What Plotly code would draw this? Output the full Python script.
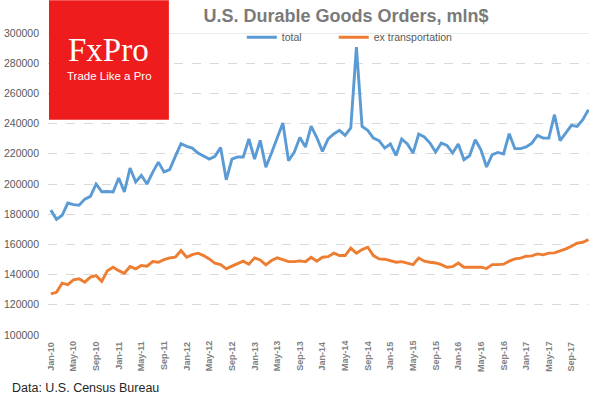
import pandas as pd
import plotly.graph_objects as go

months = pd.date_range("2010-01-01", periods=96, freq="MS").strftime("%b-%y").tolist()

total = [
    182700, 176600, 179300, 187400, 186300, 186000, 190000, 191800, 200000, 194900,
    195000, 194700, 204000, 194700, 210600, 201300, 205700, 200000, 207700, 214500,
    208000, 209500, 218300, 226700, 224900, 223800, 220500, 218700, 216500, 218300,
    224200, 202800, 216500, 217900, 217900, 229800, 216500, 228900, 211200, 220500,
    230400, 240400, 215400, 220900, 230800, 224500, 238300, 230800, 221600, 229800,
    233100, 235500, 232200, 237100, 290700, 238100, 235500, 230400, 228700, 223800,
    226500, 218900, 229800, 226500, 220500, 233100, 231100, 227100, 221200, 227100,
    225600, 220500, 226500, 216100, 218700, 229300, 222700, 211300, 219400, 220900,
    219900, 233300, 223400, 223400, 224500, 227100, 232200, 230400, 230400, 245900,
    228700, 233800, 238800, 238100, 242600, 249200,
]

ex_transport = [
    127200, 128300, 134300, 133400, 136500, 137200, 135000, 138300, 139300, 135600,
    142600, 144900, 142600, 140900, 145300, 143800, 146000, 145600, 148600, 148200,
    149900, 151100, 151500, 155900, 151500, 153200, 154200, 152600, 150400, 147500,
    146600, 143800, 145600, 147300, 148900, 146900, 151100, 149700, 146400, 149300,
    151100, 149900, 148600, 148600, 149100, 148600, 151500, 148900, 151500, 151900,
    154200, 152600, 152600, 157500, 154200, 156600, 158100, 152600, 150400, 150200,
    149300, 148200, 148600, 147700, 146600, 151000, 148900, 148200, 147700, 146600,
    144900, 145300, 147700, 144900, 144900, 145300, 144900, 144000, 146600, 146600,
    146900, 148900, 150400, 150900, 152200, 152400, 153700, 153100, 154200, 154400,
    155500, 157000, 158800, 160800, 161400, 163200,
]

y_ticks = [100000, 120000, 140000, 160000, 180000, 200000, 220000, 240000, 260000, 280000, 300000]
x_tick_labels = months[::4]

TITLE = "U.S. Durable Goods Orders, mln$"
SOURCE = "Data: U.S. Census Bureau"

# pixel geometry helpers (600x400 canvas)
L, R, T, B = 48, 10.5, 32.7, 65
PW, PH = 600 - L - R, 400 - T - B


def px_x(x):
    return (x - L) / PW


def px_y(y):
    return (400 - B - y) / PH


fig = go.Figure()
fig.add_trace(go.Scatter(x=months, y=total, mode="lines", name="total", legend="legend",
                         line=dict(color="#5B9BD5", width=2.9)))
fig.add_trace(go.Scatter(x=months, y=ex_transport, mode="lines", name="ex transportation",
                         legend="legend2", line=dict(color="#ED7D31", width=2.9)))

annotations = []
for lab in x_tick_labels:
    annotations.append(dict(x=lab, xref="x", y=px_y(356), yref="paper", text=lab,
                            textangle=-90, showarrow=False, xanchor="center", yanchor="middle",
                            font=dict(family="Liberation Sans", size=9, color="#808080", weight="bold")))

annotations += [
    dict(x=px_x(108.5), y=px_y(50), xref="paper", yref="paper", text="FxPro", showarrow=False,
         xanchor="center", yanchor="middle",
         font=dict(family="Liberation Serif", size=33, color="white")),
    dict(x=px_x(109.5), y=px_y(76), xref="paper", yref="paper", text="Trade Like a Pro", showarrow=False,
         xanchor="center", yanchor="middle",
         font=dict(family="Liberation Sans", size=11.5, color="white")),
    dict(x=px_x(10), y=px_y(388), xref="paper", yref="paper", text=SOURCE, showarrow=False,
         xanchor="left", yanchor="middle",
         font=dict(family="Liberation Sans", size=12.5, color="#262626")),
]

legend_font = dict(family="Liberation Sans", size=10.5, color="#595959")

fig.update_layout(
    width=600, height=400,
    margin=dict(l=L, r=R, t=T, b=B, autoexpand=False),
    paper_bgcolor="white", plot_bgcolor="white",
    title=dict(text=TITLE, x=346 / 600, xanchor="center", y=1 - 16 / 400, yanchor="middle",
               font=dict(family="Liberation Sans", size=18, color="#7A7A7A", weight="bold")),
    showlegend=True,
    legend=dict(orientation="h", x=px_x(242), y=px_y(37), xanchor="left", yanchor="middle",
                bgcolor="rgba(0,0,0,0)", font=legend_font),
    legend2=dict(orientation="h", x=px_x(334), y=px_y(37), xanchor="left", yanchor="middle",
                 bgcolor="rgba(0,0,0,0)", font=legend_font),
    xaxis=dict(type="category", range=[-0.5, 95.1], showgrid=False, showticklabels=False,
               showline=False, zeroline=False, ticks="", automargin=False),
    yaxis=dict(range=[100000, 300000], tickvals=y_ticks, showgrid=True, gridcolor="#D9D9D9",
               griddash="dash", gridwidth=1, zeroline=False, showline=False, automargin=False,
               tickfont=dict(family="Liberation Sans", size=10.5, color="#595959"),
               ticklabelstandoff=8, tickformat="d"),
    shapes=[
        dict(type="line", xref="paper", yref="y", x0=0, x1=1, y0=300000, y1=300000,
             line=dict(color="#D9D9D9", width=1), layer="below"),
        dict(type="rect", xref="paper", yref="paper", x0=px_x(49), x1=px_x(169),
             y0=px_y(119.5), y1=px_y(0), fillcolor="#EE1C1C", line=dict(width=0), layer="above"),
    ],
    annotations=annotations,
)

fig.write_html("out.html")
